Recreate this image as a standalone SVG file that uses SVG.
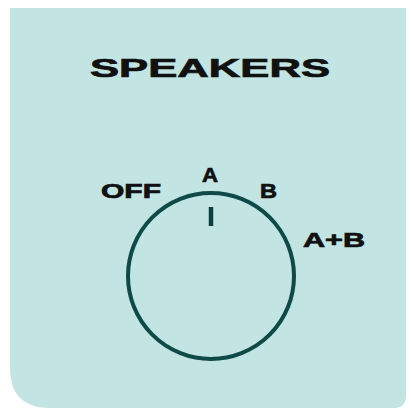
<svg xmlns="http://www.w3.org/2000/svg" width="411" height="411" viewBox="0 0 411 411">
<style>
.lbl{font-family:"Liberation Sans",Arial,sans-serif;font-weight:bold;fill:#111;stroke:#111;stroke-width:0.7;}
</style>
<rect width="411" height="411" fill="#ffffff"/>
<path d="M10,8 H406 V396 Q406,408 394,408 H50 Q10,408 10,368 Z" fill="#c2e4e2"/>
<g id="title"><text class="lbl" x="90" y="77" font-size="25.5" textLength="240" lengthAdjust="spacingAndGlyphs">SPEAKERS</text></g>
<g id="knob">
<circle cx="211" cy="276" r="83" fill="none" stroke="#0e4a48" stroke-width="4"/>
<line x1="211" y1="207" x2="211" y2="226" stroke="#0e3e3c" stroke-width="4.5"/>
</g>
<g id="labels">
<text class="lbl" x="101" y="197.5" font-size="20" textLength="60" lengthAdjust="spacingAndGlyphs">OFF</text>
<text class="lbl" x="202" y="182" font-size="20" textLength="16" lengthAdjust="spacingAndGlyphs">A</text>
<text class="lbl" x="260" y="198" font-size="20" textLength="17" lengthAdjust="spacingAndGlyphs">B</text>
<text class="lbl" x="303" y="246.5" font-size="20" textLength="62" lengthAdjust="spacingAndGlyphs">A+B</text>
</g>
</svg>
